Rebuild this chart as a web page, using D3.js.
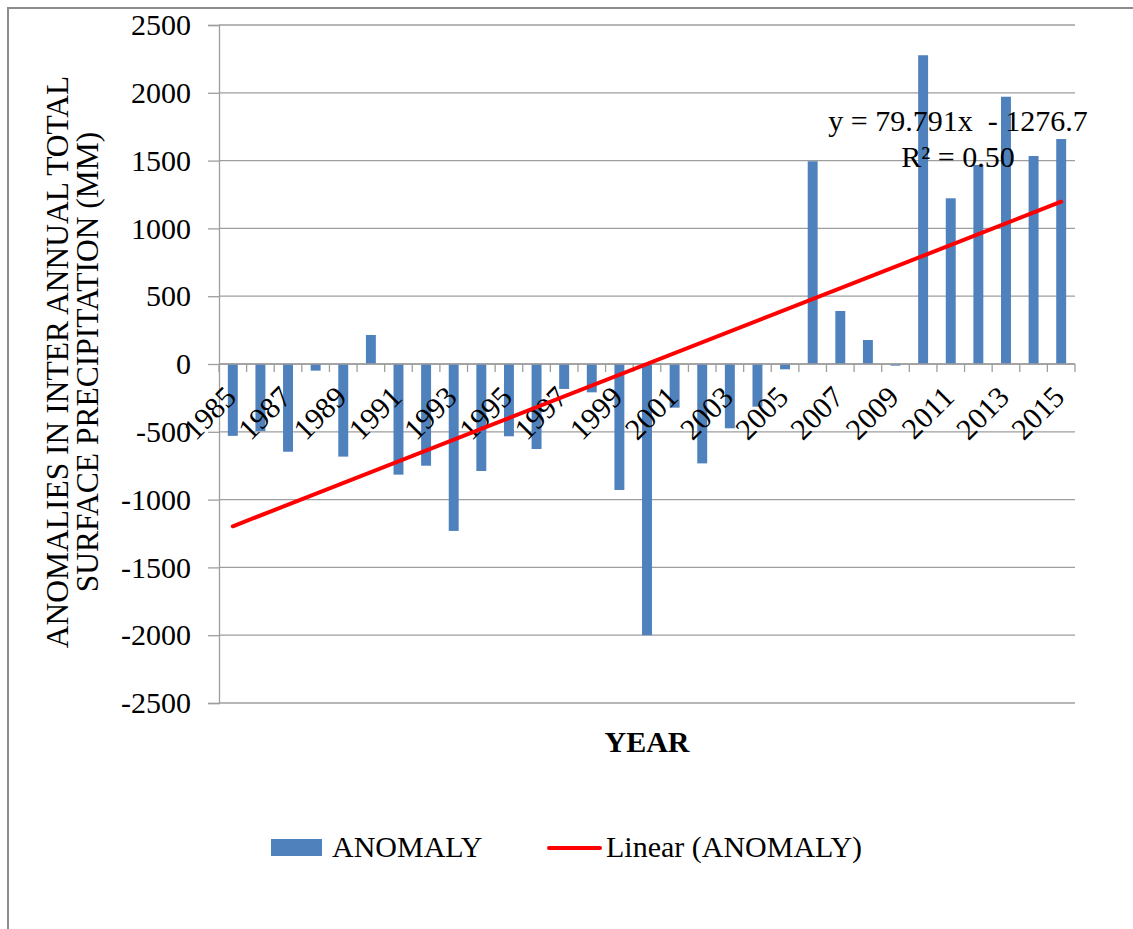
<!DOCTYPE html>
<html>
<head>
<meta charset="utf-8">
<script src="https://cdn.jsdelivr.net/npm/d3@7"></script>
<style>
  body { margin: 0; background: #ffffff; }
  svg text { font-family: "Liberation Serif", "Times New Roman", serif; fill: #000; }
</style>
</head>
<body>
<script>
// Yearly anomaly of total surface precipitation (mm)
const years = [1985, 1986, 1987, 1988, 1989, 1990, 1991, 1992, 1993, 1994,
               1995, 1996, 1997, 1998, 1999, 2000, 2001, 2002, 2003, 2004,
               2005, 2006, 2007, 2008, 2009, 2010, 2011, 2012, 2013, 2014, 2015];
const anomaly = [-530, -495, -647, -49, -683, 214, -816, -750, -1231, -789,
                 -533, -627, -184, -209, -929, -2000, -322, -733, -474, -315,
                 -39, 1495, 391, 177, -12, 2277, 1222, 1468, 1971, 1534, 1659];
const yTicks = [2500, 2000, 1500, 1000, 500, 0, -500, -1000, -1500, -2000, -2500];
const xTickLabels = [1985, 1987, 1989, 1991, 1993, 1995, 1997, 1999, 2001,
                     2003, 2005, 2007, 2009, 2011, 2013, 2015];
// Linear trend fitted on the series index (1..31)
const trendSlope = 79.791;
const trendIntercept = -1276.7;
const trendR2 = "0.50";

const W = 1133, H = 929;
const svg = d3.select("body").append("svg")
  .attr("width", W).attr("height", H);

// outer frame of the chart area
svg.append("path")
  .attr("d", `M8,${H + 5} L8,8 L${W + 5},8`)
  .attr("fill", "none").attr("stroke", "#8c8c8c").attr("stroke-width", 2);

const x = d3.scaleBand().domain(years).range([219, 1075])
  .paddingInner(0.64).paddingOuter(0.32);
const y = d3.scaleLinear().domain([-2500, 2500]).range([703, 25]);

const gridColor = "#9e9e9e";

// horizontal gridlines
svg.append("g").selectAll("line").data(yTicks).join("line")
  .attr("x1", 219).attr("x2", 1075)
  .attr("y1", d => y(d)).attr("y2", d => y(d))
  .attr("stroke", gridColor).attr("stroke-width", 1.3);

// value axis (plain hyphen for negatives)
const yAxis = svg.append("g").attr("transform", "translate(219,0)")
  .call(d3.axisLeft(y).tickValues(yTicks).tickSize(11).tickPadding(17)
        .tickFormat(d => String(d)));
yAxis.select(".domain").attr("stroke", gridColor).attr("stroke-width", 1.3);
yAxis.selectAll(".tick line").attr("stroke", gridColor).attr("stroke-width", 1.3);
yAxis.selectAll(".tick text")
  .style("font-family", '"Liberation Serif", "Times New Roman", serif')
  .style("font-size", "30px").attr("fill", "#000");

// bars
svg.append("g").selectAll("rect").data(years).join("rect")
  .attr("x", (d) => x(d))
  .attr("width", x.bandwidth())
  .attr("y", (d, i) => y(Math.max(0, anomaly[i])))
  .attr("height", (d, i) => Math.abs(y(anomaly[i]) - y(0)))
  .attr("fill", "#4f81bd");

// category axis along zero, with ticks between categories
const y0 = y(0);
const step = x.step();
const catAxis = svg.append("g");
catAxis.append("line")
  .attr("x1", 219).attr("x2", 1075).attr("y1", y0).attr("y2", y0)
  .attr("stroke", gridColor).attr("stroke-width", 1.3);
catAxis.selectAll("line.tk").data(d3.range(years.length + 1)).join("line")
  .attr("class", "tk")
  .attr("x1", i => 219 + i * step).attr("x2", i => 219 + i * step)
  .attr("y1", y0).attr("y2", y0 + 8)
  .attr("stroke", gridColor).attr("stroke-width", 1.3);

const cx = d => x(d) + x.bandwidth() / 2;
catAxis.selectAll("text").data(xTickLabels).join("text")
  .attr("transform", d => `translate(${cx(d) + 5},${y0 + 35}) rotate(-45)`)
  .attr("text-anchor", "end")
  .style("font-size", "30px")
  .text(d => d);

// trend line
const first = 1, last = years.length;
const trend = [
  { yr: years[0], v: trendSlope * first + trendIntercept },
  { yr: years[years.length - 1], v: trendSlope * last + trendIntercept }
];
svg.append("path")
  .attr("d", d3.line().x(d => cx(d.yr)).y(d => y(d.v))(trend))
  .attr("fill", "none").attr("stroke", "#ff0000")
  .attr("stroke-width", 4).attr("stroke-linecap", "round");

// trend equation
const eq = svg.append("text").attr("text-anchor", "middle")
  .style("font-size", "30px").attr("xml:space", "preserve");
eq.append("tspan").attr("x", 958).attr("y", 131)
  .text(`y = ${trendSlope}x  - ${Math.abs(trendIntercept)}`);
eq.append("tspan").attr("x", 958).attr("y", 167)
  .text(`R² = ${trendR2}`);

// axis titles
svg.append("text")
  .attr("x", 647).attr("y", 752).attr("text-anchor", "middle")
  .style("font-size", "30px").style("font-weight", "bold")
  .text("YEAR");

const yTitle = svg.append("g").attr("transform", "translate(0,362)");
yTitle.append("text")
  .attr("transform", "translate(68,0) rotate(-90)")
  .attr("text-anchor", "middle").style("font-size", "31.5px")
  .text("ANOMALIES IN INTER ANNUAL TOTAL");
yTitle.append("text")
  .attr("transform", "translate(98,0) rotate(-90)")
  .attr("text-anchor", "middle").style("font-size", "31.5px")
  .text("SURFACE PRECIPITATION (MM)");

// legend
const lg = svg.append("g");
lg.append("rect").attr("x", 271).attr("y", 839).attr("width", 51).attr("height", 17)
  .attr("fill", "#4f81bd");
lg.append("text").attr("x", 332).attr("y", 857).style("font-size", "30px")
  .text("ANOMALY");
lg.append("line").attr("x1", 549).attr("x2", 600).attr("y1", 848).attr("y2", 848)
  .attr("stroke", "#ff0000").attr("stroke-width", 4).attr("stroke-linecap", "round");
lg.append("text").attr("x", 606).attr("y", 857).style("font-size", "30px")
  .text("Linear (ANOMALY)");
</script>
</body>
</html>
